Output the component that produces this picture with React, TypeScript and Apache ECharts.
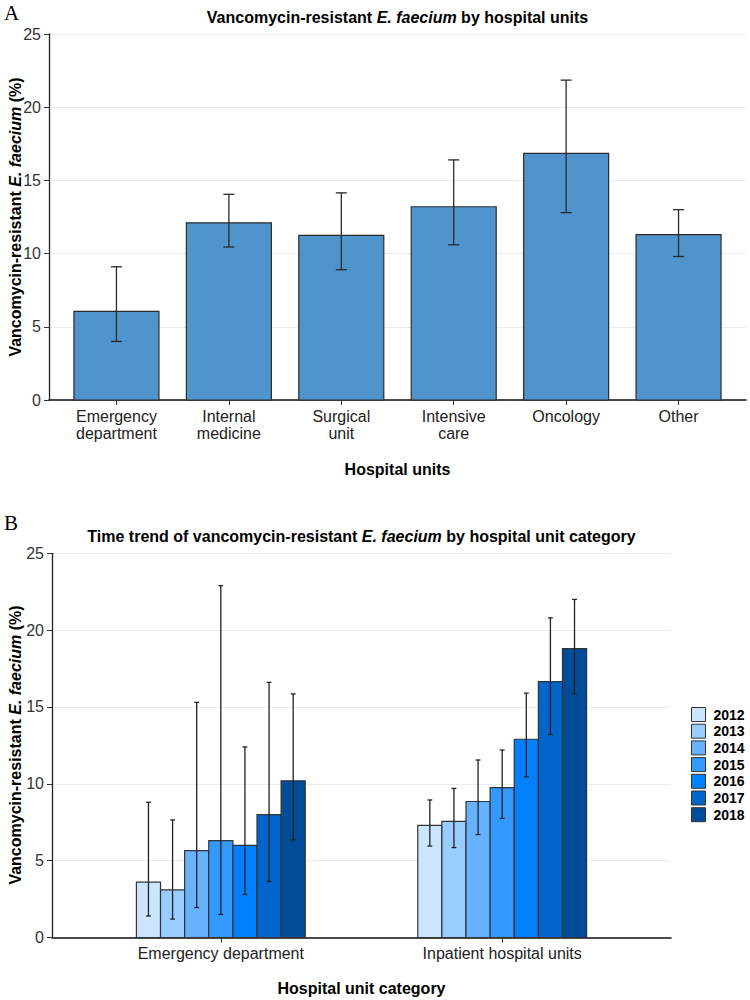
import React, { useEffect, useRef } from 'react';
import * as echarts from 'echarts';

// ---------- Panel A data ----------
const unitsA = ['Emergency\ndepartment', 'Internal\nmedicine', 'Surgical\nunit', 'Intensive\ncare', 'Oncology', 'Other'];
const valuesA = [6.05, 12.1, 11.25, 13.2, 16.85, 11.3];
const lowerA = [4.0, 10.45, 8.9, 10.6, 12.8, 9.8];
const upperA = [9.1, 14.05, 14.15, 16.4, 21.85, 13.0];

// ---------- Panel B data ----------
const categoriesB = ['Emergency department', 'Inpatient hospital units'];
const years = ['2012', '2013', '2014', '2015', '2016', '2017', '2018'];
const emergencyValues = [3.6, 3.1, 5.65, 6.3, 6.0, 8.0, 10.2];
const emergencyLower = [1.4, 1.2, 1.95, 1.5, 2.8, 3.65, 6.35];
const emergencyUpper = [8.8, 7.65, 15.3, 22.9, 12.4, 16.6, 15.85];
const inpatientValues = [7.3, 7.55, 8.85, 9.75, 12.9, 16.65, 18.8];
const inpatientLower = [5.95, 5.85, 6.7, 7.75, 10.45, 13.2, 15.85];
const inpatientUpper = [8.95, 9.7, 11.55, 12.2, 15.9, 20.8, 22.0];
const yearColors = ['#cce5ff', '#99ccff', '#66b2ff', '#3399ff', '#007fff', '#0066cc', '#004c99'];

const yTicks = [0, 5, 10, 15, 20, 25];

const FONT = '"Liberation Sans", Arial, sans-serif';

export default function App() {
  const ref = useRef<HTMLDivElement>(null);

  useEffect(() => {
    document.body.style.margin = '0';
    const chart = echarts.init(ref.current!, null, { renderer: 'svg' });

    const boldRich = {
      b: { fontFamily: FONT, fontWeight: 'bold', fontSize: 16, color: '#000' },
      i: { fontFamily: FONT, fontWeight: 'bold', fontStyle: 'italic', fontSize: 16, color: '#000' },
    };

    const yAxisBase = (gridIndex: number) => ({
      type: 'value',
      gridIndex,
      min: yTicks[0],
      max: yTicks[yTicks.length - 1],
      interval: 5,
      axisLine: { show: true, onZero: false, lineStyle: { color: '#222', width: 1.3 } },
      axisTick: { show: true, length: 5, lineStyle: { color: '#333', width: 1 } },
      axisLabel: { fontFamily: FONT, fontSize: 16, color: '#333', margin: 8 },
      splitLine: { show: true, lineStyle: { color: '#ebebeb', width: 1 } },
    });

    const seriesA = {
      type: 'custom',
      xAxisIndex: 0,
      yAxisIndex: 0,
      data: valuesA.map((v, i) => [i, v, lowerA[i], upperA[i]]),
      renderItem: (_p: any, api: any) => {
        const x = api.value(0);
        const v = api.value(1);
        const lo = api.value(2);
        const hi = api.value(3);
        const tl = api.coord([x - 0.378, v]);
        const br = api.coord([x + 0.378, 0]);
        const t = api.coord([x, hi]);
        const b = api.coord([x, lo]);
        const cl = api.coord([x - 0.049, 0])[0];
        const cr = api.coord([x + 0.049, 0])[0];
        const es = { stroke: '#2a2a2a', lineWidth: 1.3 };
        return {
          type: 'group',
          children: [
            { type: 'rect', shape: { x: tl[0], y: tl[1], width: br[0] - tl[0], height: br[1] - tl[1] }, style: { fill: '#4F94CD', stroke: '#2b2b2b', lineWidth: 1.2 } },
            { type: 'line', shape: { x1: t[0], y1: t[1], x2: b[0], y2: b[1] }, style: es },
            { type: 'line', shape: { x1: cl, y1: t[1], x2: cr, y2: t[1] }, style: es },
            { type: 'line', shape: { x1: cl, y1: b[1], x2: cr, y2: b[1] }, style: es },
          ],
        };
      },
    };

    const groupWidth = 0.6;
    const barW = groupWidth / years.length;
    const seriesB = years.map((yr, j) => ({
      type: 'custom',
      name: yr,
      xAxisIndex: 1,
      yAxisIndex: 1,
      itemStyle: { color: yearColors[j], borderColor: '#333', borderWidth: 1 },
      data: [
        [0, emergencyValues[j], emergencyLower[j], emergencyUpper[j]],
        [1, inpatientValues[j], inpatientLower[j], inpatientUpper[j]],
      ],
      renderItem: (_p: any, api: any) => {
        const c = api.value(0);
        const v = api.value(1);
        const lo = api.value(2);
        const hi = api.value(3);
        const xc = c - groupWidth / 2 + (j + 0.5) * barW;
        const tl = api.coord([xc - barW / 2, v]);
        const br = api.coord([xc + barW / 2, 0]);
        const t = api.coord([xc, hi]);
        const b = api.coord([xc, lo]);
        const cl = api.coord([xc - 0.0085, 0])[0];
        const cr = api.coord([xc + 0.0085, 0])[0];
        const es = { stroke: '#222', lineWidth: 1.3 };
        return {
          type: 'group',
          children: [
            { type: 'rect', shape: { x: tl[0], y: tl[1], width: br[0] - tl[0], height: br[1] - tl[1] }, style: { fill: yearColors[j], stroke: '#333', lineWidth: 1.2 } },
            { type: 'line', shape: { x1: t[0], y1: t[1], x2: b[0], y2: b[1] }, style: es },
            { type: 'line', shape: { x1: cl, y1: t[1], x2: cr, y2: t[1] }, style: es },
            { type: 'line', shape: { x1: cl, y1: b[1], x2: cr, y2: b[1] }, style: es },
          ],
        };
      },
    }));

    const option: any = {
      animation: false,
      backgroundColor: '#fff',
      grid: [
        { left: 49, top: 34, width: 697, height: 366 },
        { left: 52, top: 553.3, width: 619, height: 384.2 },
      ],
      xAxis: [
        {
          type: 'value',
          gridIndex: 0,
          min: -0.6,
          max: unitsA.length - 1 + 0.6,
          axisLine: { show: true, onZero: false, lineStyle: { color: '#111', width: 1.5 } },
          axisTick: { show: true, length: 5, customValues: unitsA.map((_, i) => i), lineStyle: { color: '#333' } },
          axisLabel: {
            customValues: unitsA.map((_, i) => i),
            formatter: (v: number) => unitsA[Math.round(v)] ?? '',
            fontFamily: FONT, fontSize: 16, color: '#222', lineHeight: 17, margin: 7.5,
          },
          splitLine: { show: false },
        },
        {
          type: 'value',
          gridIndex: 1,
          min: -0.6,
          max: categoriesB.length - 1 + 0.6,
          axisLine: { show: true, onZero: false, lineStyle: { color: '#111', width: 1.5 } },
          axisTick: { show: true, length: 5, customValues: categoriesB.map((_, i) => i), lineStyle: { color: '#333' } },
          axisLabel: {
            customValues: categoriesB.map((_, i) => i),
            formatter: (v: number) => categoriesB[Math.round(v)] ?? '',
            fontFamily: FONT, fontSize: 16, color: '#222', lineHeight: 17, margin: 7,
          },
          splitLine: { show: false },
        },
      ],
      yAxis: [yAxisBase(0), yAxisBase(1)],
      legend: {
        orient: 'vertical',
        left: 686,
        top: 702,
        icon: 'rect',
        itemWidth: 14,
        itemHeight: 14,
        itemGap: 1.7,
        textStyle: { fontFamily: FONT, fontWeight: 'bold', fontSize: 14, color: '#000', padding: [0, 0, 0, 3] },
        data: years.map((y, j) => ({ name: y, itemStyle: { color: yearColors[j], borderColor: '#333', borderWidth: 1 } })),
      },
      series: [seriesA, ...seriesB],
      graphic: [
        { type: 'text', left: 4, top: 2, style: { text: 'A', fontFamily: '"Liberation Serif", "Times New Roman", serif', fontSize: 21, fill: '#000' } },
        { type: 'text', left: 4, top: 512, style: { text: 'B', fontFamily: '"Liberation Serif", "Times New Roman", serif', fontSize: 21, fill: '#000' } },
        {
          type: 'text', x: 397.5, y: 17.5,
          style: { text: '{b|Vancomycin-resistant }{i|E. faecium}{b| by hospital units}', rich: boldRich, align: 'center', verticalAlign: 'middle' },
        },
        {
          type: 'text', x: 361.5, y: 536.5,
          style: { text: '{b|Time trend of vancomycin-resistant }{i|E. faecium}{b| by hospital unit category}', rich: boldRich, align: 'center', verticalAlign: 'middle' },
        },
        {
          type: 'text', x: 15.5, y: 217, rotation: Math.PI / 2,
          style: { text: '{b|Vancomycin-resistant }{i|E. faecium}{b| (%)}', rich: boldRich, align: 'center', verticalAlign: 'middle' },
        },
        {
          type: 'text', x: 15.5, y: 745, rotation: Math.PI / 2,
          style: { text: '{b|Vancomycin-resistant }{i|E. faecium}{b| (%)}', rich: boldRich, align: 'center', verticalAlign: 'middle' },
        },
        {
          type: 'text', x: 397.5, y: 469,
          style: { text: 'Hospital units', fontFamily: FONT, fontWeight: 'bold', fontSize: 16, fill: '#000', align: 'center', verticalAlign: 'middle' },
        },
        {
          type: 'text', x: 361.5, y: 988,
          style: { text: 'Hospital unit category', fontFamily: FONT, fontWeight: 'bold', fontSize: 16, fill: '#000', align: 'center', verticalAlign: 'middle' },
        },
      ],
    };

    chart.setOption(option);
    return () => chart.dispose();
  }, []);

  return <div ref={ref} style={{ width: 750, height: 1000 }} />;
}
